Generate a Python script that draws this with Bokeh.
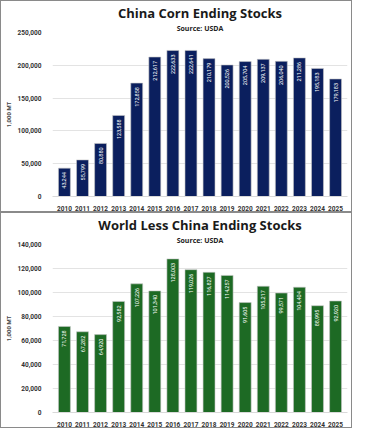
from bokeh.plotting import figure
from bokeh.models import ColumnDataSource, NumeralTickFormatter, Title, FixedTicker
from bokeh.layouts import column
from bokeh.embed import file_html
from bokeh.resources import INLINE
from bokeh.core.properties import value
import math

years = [str(y) for y in range(2010, 2026)]
china = [43244, 55799, 80880, 123588, 172858, 212617, 222633, 222641, 210179,
         200526, 205704, 209137, 206040, 211286, 195183, 179183]
world_less_china = [71728, 67282, 64920, 92582, 107226, 101340, 128003, 119026, 116827,
                    114257, 91605, 105217, 99571, 104404, 88995, 92920]

TITLE_FONT = "Open Sans"
TICK_FONT = "Roboto"


def make_panel(title, vals, color, ymax, step, height):
    src = ColumnDataSource(dict(x=years, top=vals,
                                lab=[f"{v:,}" for v in vals]))
    p = figure(x_range=years, y_range=(0, ymax), width=352, height=height,
               output_backend="svg", toolbar_location=None, title=None,
               min_border_left=2, min_border_right=6, min_border_top=2, min_border_bottom=4)
    p.add_layout(Title(text="Source: USDA", align="center", text_font=TITLE_FONT,
                       text_font_size="7px", text_font_style="bold", text_color="#222222",
                       standoff=0), "above")
    p.add_layout(Title(text=title, align="center", text_font=TITLE_FONT,
                       text_font_size="13px", text_font_style="bold", text_color="#1a1a1a",
                       standoff=0), "above")
    p.vbar(x="x", top="top", width=0.66, source=src, fill_color=color,
           line_color="#c8c8c8", line_width=0.6)
    p.text(x="x", y="top", text="lab", source=src, angle=math.pi / 2,
           text_align="right", text_baseline="middle", y_offset=4,
           text_font=value(TICK_FONT), text_font_size="5.5px", text_color="white")
    p.yaxis.ticker = FixedTicker(ticks=list(range(0, ymax + 1, step)))
    p.yaxis.formatter = NumeralTickFormatter(format="0,0")
    p.yaxis.axis_label = "1,000 MT"
    p.yaxis.axis_label_text_font = TICK_FONT
    p.yaxis.axis_label_text_font_size = "6px"
    p.yaxis.axis_label_text_font_style = "bold"
    p.yaxis.axis_label_standoff = 3
    for ax in (p.xaxis, p.yaxis):
        ax.major_label_text_font = TICK_FONT
        ax.major_label_text_font_size = "6.5px"
        ax.major_label_text_font_style = "bold"
        ax.major_label_text_color = "#333333"
        ax.major_tick_line_color = None
        ax.minor_tick_line_color = None
    p.yaxis.axis_line_color = None
    p.xaxis.axis_line_color = "#d9d9d9"
    p.xaxis.major_label_standoff = 3
    p.yaxis.major_label_standoff = 5
    p.xgrid.grid_line_color = None
    p.ygrid.grid_line_color = "#e3e3e3"
    p.outline_line_color = None
    p.x_range.range_padding = 0.02
    p.styles = {"border": "1px solid #8a8a8a"}
    return p


p1 = make_panel("China Corn Ending Stocks", china, "#0b1f5e", 250000, 50000, 212)
p2 = make_panel("World Less China Ending Stocks", world_less_china, "#1d6a24", 140000, 20000, 216)

layout = column(p1, p2, spacing=0)
open("out.html", "w").write(file_html(layout, INLINE))
